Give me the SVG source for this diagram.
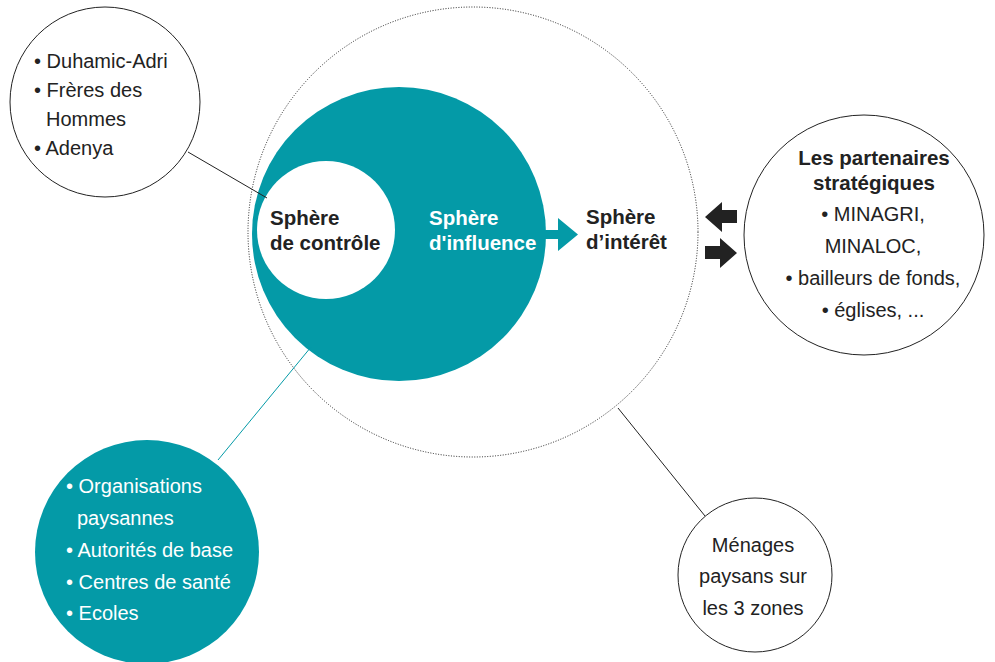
<svg xmlns="http://www.w3.org/2000/svg" width="995" height="662" viewBox="0 0 995 662">
<style>
.t{font-family:"Liberation Sans",Arial,sans-serif;font-size:20px;fill:#222}
.b{font-weight:bold;font-size:20.5px}
.w{fill:#fff}
.c{text-anchor:middle}
.ol{fill:#fff;stroke:#222;stroke-width:1}
.ln{stroke:#222;stroke-width:1;fill:none}
</style>
<rect width="995" height="662" fill="#fff"/>
<g id="sphere-interet">
<circle cx="473" cy="232" r="225" fill="none" stroke="#222" stroke-width="1" stroke-dasharray="1 1.6"/>
<text class="t b" x="586" y="224">Sphère</text>
<text class="t b" x="586" y="249">d’intérêt</text>
</g>
<g id="sphere-influence">
<circle cx="399" cy="234" r="147" fill="#049aa7"/>
<text class="t b w" x="429" y="225">Sphère</text>
<text class="t b w" x="429" y="250">d'influence</text>
</g>
<g id="sphere-controle">
<circle cx="326" cy="230" r="69" fill="#fff"/>
<text class="t b" x="270" y="225">Sphère</text>
<text class="t b" x="270" y="250">de contrôle</text>
</g>
<g id="connectors">
<line class="ln" x1="188" y1="152" x2="267" y2="198"/>
<line x1="218" y1="460" x2="311" y2="347" stroke="#049aa7" stroke-width="1"/>
<line class="ln" x1="618" y1="408" x2="705" y2="516"/>
<path d="M540 230 H558 V218 L578 234.5 L558 251 V239 H540 Z" fill="#049aa7"/>
<path d="M705 217 L722 202 V210 H737 V223 H722 V232 Z" fill="#222"/>
<path d="M737 253 L720 238 V246 H705 V259 H720 V268 Z" fill="#222"/>
</g>
<g id="acteurs-controle">
<circle class="ol" cx="105" cy="102" r="95"/>
<text class="t" x="34" y="68">• Duhamic-Adri</text>
<text class="t" x="34" y="97">• Frères des</text>
<text class="t" x="46" y="126">Hommes</text>
<text class="t" x="34" y="155">• Adenya</text>
</g>
<g id="acteurs-influence">
<circle cx="147" cy="552" r="112" fill="#049aa7"/>
<text class="t w" x="66" y="493">• Organisations</text>
<text class="t w" x="77" y="525">paysannes</text>
<text class="t w" x="66" y="557">• Autorités de base</text>
<text class="t w" x="66" y="589">• Centres de santé</text>
<text class="t w" x="66" y="620">• Ecoles</text>
</g>
<g id="partenaires">
<circle class="ol" cx="864" cy="235" r="120"/>
<text class="t b c" x="874" y="165">Les partenaires</text>
<text class="t b c" x="874" y="190">stratégiques</text>
<text class="t c" x="873" y="221">• MINAGRI,</text>
<text class="t c" x="873" y="253">MINALOC,</text>
<text class="t c" x="873" y="285">• bailleurs de fonds,</text>
<text class="t c" x="873" y="317">• églises, ...</text>
</g>
<g id="menages">
<circle class="ol" cx="755" cy="575" r="77"/>
<text class="t c" x="753" y="552">Ménages</text>
<text class="t c" x="753" y="583">paysans sur</text>
<text class="t c" x="753" y="615">les 3 zones</text>
</g>
</svg>
